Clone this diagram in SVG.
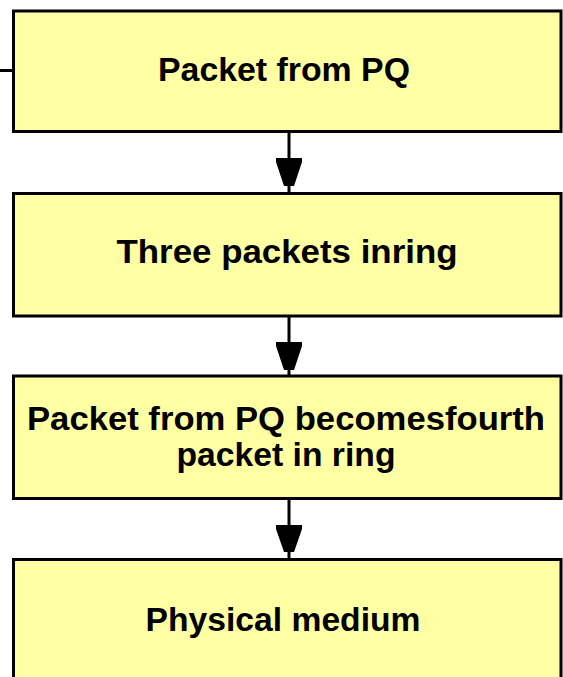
<svg xmlns="http://www.w3.org/2000/svg" width="563" height="677" viewBox="0 0 563 677">
<style>
.box{fill:#FFFFA3;stroke:#000;stroke-width:3}
.t{font-family:"Liberation Sans",Arial,sans-serif;font-weight:bold;font-size:33px;fill:#000;text-anchor:middle}
.ln{stroke:#000;stroke-width:3;fill:none}
.ah{fill:#000}
</style>
<rect width="563" height="677" fill="#fff"/>
<g id="connectors">
<line class="ln" x1="0" y1="70.5" x2="14" y2="70.5"/>
<line class="ln" x1="289" y1="131" x2="289" y2="193"/>
<polygon class="ah" points="276,158 302,158 302,162 294,186 284,186 276,162"/>
<line class="ln" x1="289" y1="316" x2="289" y2="376"/>
<polygon class="ah" points="276,342 302,342 302,346 294,370 284,370 276,346"/>
<line class="ln" x1="289" y1="498" x2="289" y2="559"/>
<polygon class="ah" points="276,525 302,525 302,529 294,552 284,552 276,529"/>
</g>
<g id="n1">
<rect class="box" x="13.5" y="11" width="547.5" height="120.5"/>
<text class="t" x="284" y="81" textLength="252" lengthAdjust="spacingAndGlyphs">Packet from PQ</text>
</g>
<g id="n2">
<rect class="box" x="13.5" y="193.5" width="547.5" height="122.5"/>
<text class="t" x="287" y="263" textLength="341" lengthAdjust="spacingAndGlyphs">Three packets inring</text>
</g>
<g id="n3">
<rect class="box" x="13.5" y="376" width="547.5" height="122.5"/>
<text class="t" x="286" y="430" textLength="518" lengthAdjust="spacingAndGlyphs">Packet from PQ becomesfourth</text>
<text class="t" x="286" y="466" textLength="219" lengthAdjust="spacingAndGlyphs">packet in ring</text>
</g>
<g id="n4">
<rect class="box" x="13.5" y="559.5" width="547.5" height="140"/>
<text class="t" x="283" y="631" textLength="275" lengthAdjust="spacingAndGlyphs">Physical medium</text>
</g>
</svg>
